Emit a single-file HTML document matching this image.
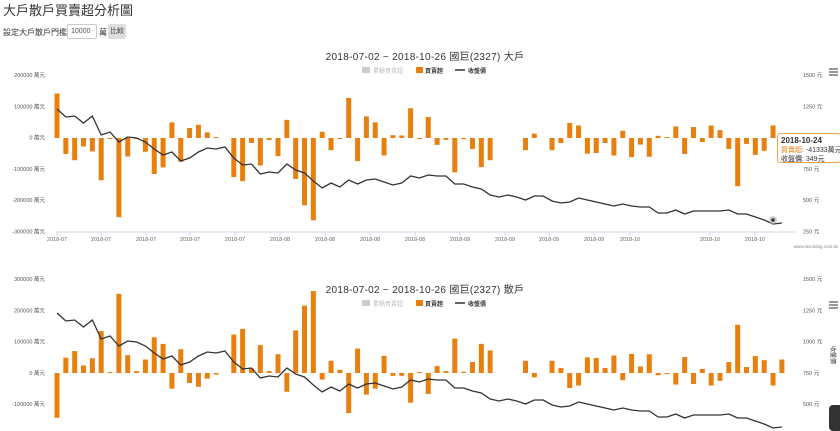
<!DOCTYPE html>
<html><head><meta charset="utf-8"><style>
body{margin:0;width:840px;height:429px;overflow:hidden;background:#fff;font-family:"Liberation Sans","Noto Sans CJK TC",sans-serif;position:relative}
.t{position:absolute;white-space:nowrap}
svg{position:absolute;left:0;top:0}
</style></head><body>
<div class="t" style="left:3px;top:0px;font-size:13px;color:#333">大戶散戶買賣超分析圖</div>
<div class="t" style="left:3px;top:27px;font-size:8px;color:#333">設定大戶散戶門檻</div>
<div class="t" style="left:67px;top:24px;width:30px;height:15px;border:1px solid #ccc;border-radius:2px;font-size:7px;line-height:14px;padding-left:3px;box-sizing:border-box;color:#555">10000</div>
<div class="t" style="left:99px;top:27px;font-size:8px;color:#333">萬</div>
<div class="t" style="left:108px;top:24px;width:18px;height:15px;background:#ddd;border-radius:2px;font-size:7px;line-height:15px;text-align:center;color:#444">比較</div>
<svg id="s" width="840" height="429" xmlns="http://www.w3.org/2000/svg"></svg>
<div class="t" style="left:777px;top:133px;width:64px;height:30px;background:rgba(255,255,255,.95);border:1px solid #f0a050;border-radius:3px;font-size:7px;line-height:9px;padding:2px 3px;box-sizing:border-box;color:#333"><b style="font-size:8px">2018-10-24</b><br><span style="color:#e8800f">買賣超</span>: -41333萬元<br>收盤價: 349元</div>
<div class="t" style="left:829px;top:405px;width:14px;height:26px;background:#333;border-radius:4px"></div>
<script>
const s=document.getElementById('s');let h='';
const X=i=>57+i*8.84;
const c1=[142,-51,-71,-27,-43,-135,-1,-253,-59,-3,-44,-115,-94,50,-76,32,42,18,3,0,-125,-138,-16,-88,-6,-58,58,-131,-215,-263,20,-39,-3,128,-74,69,50,-56,9,8,95,-3,67,-22,-6,-110,-4,-35,-93,-71,0,0,0,-39,14,0,-39,-16,48,40,-50,-48,-16,-56,23,-61,-21,-60,7,3,37,-51,35,-13,40,25,-35,-154,-19,-54,-41,40,-43];
const c2=[-143,49,70,24,47,134,3,253,57,6,43,114,93,-50,76,-32,-44,-18,-5,0,123,141,15,89,6,60,-60,136,215,262,-21,39,10,-128,78,-69,-50,55,-9,-9,-95,3,-67,22,6,110,4,35,93,72,0,0,0,39,-14,0,39,16,-48,-40,50,48,16,56,-23,61,21,60,-7,-3,-37,51,-35,13,-40,-25,35,154,19,54,41,-40,43];
const ly=[109,117,116,123,116,135,132,142,137,138,142,149,155,152,161,158,152,148,149,147,158,165,164,174,172,173,164,170,173,181,188,183,187,180,184,180,179,182,185,183,176,178,175,176,176,184,184,187,189,195,197,195,197,200,196,196,201,203,202,198,200,202,204,206,204,206,207,207,213,213,210,214,211,211,211,211,210,214,214,217,220,224,223];
const T=(x,y,t,sz,col,anc,extra)=>`<text x="${x}" y="${y}" font-size="${sz}" fill="${col}" text-anchor="${anc||'start'}" ${extra||''}>${t}</text>`;
function chart(z,vals,off,title,left,right,ty,top){
 h+=T(425,ty,title,10,'#333','middle','letter-spacing="0.3"');
 const ly2=ty+13;
 h+=`<rect x="362" y="${ly2-6}" width="8" height="6" fill="#ccc"/>`+T(373,ly2,'累積買賣超',6,'#bbb');
 h+=`<rect x="416" y="${ly2-6}" width="7" height="6" fill="#e8800f"/>`+T(425,ly2,'買賣超',6,'#333','start','font-weight="bold"');
 h+=`<line x1="455" y1="${ly2-3}" x2="465" y2="${ly2-3}" stroke="#333" stroke-width="1.5"/>`+T(468,ly2,'收盤價',6,'#333','start','font-weight="bold"');
 left.forEach((l,k)=>{h+=T(45,top+31.3*k+2,l,5.5,'#555','end');});
 right.forEach((l,k)=>{h+=T(803,top+31.3*k+2,l,5.5,'#555');});
 h+=`<g fill="#e8800f">`;
 vals.forEach((v,i)=>{if(!v)return;const hh=Math.abs(v)*0.313;h+=`<rect x="${X(i)-2.5}" y="${v>0?z-hh:z}" width="5" height="${Math.max(hh,1)}"/>`});
 h+=`</g>`;
 h+=`<polyline fill="none" stroke="#333" stroke-width="1.3" points="${ly.map((y,i)=>X(i)+','+(y+off)).join(' ')}"/>`;
 h+=`<g stroke="#333" stroke-width="1"><line x1="829" y1="${ty+9}" x2="838" y2="${ty+9}"/><line x1="829" y1="${ty+12}" x2="838" y2="${ty+12}"/><line x1="829" y1="${ty+15}" x2="838" y2="${ty+15}"/></g>`;
}
chart(138,c1,0,'2018-07-02 ~ 2018-10-26 國巨(2327) 大戶',['200000 萬元','100000 萬元','0 萬元','-100000 萬元','-200000 萬元','-300000 萬元'],['1500 元','1250 元','1000 元','750 元','500 元','250 元'],60,75);
chart(373,c2,204,'2018-07-02 ~ 2018-10-26 國巨(2327) 散戶',['300000 萬元','200000 萬元','100000 萬元','0 萬元','-100000 萬元'],['1500 元','1250 元','1000 元','750 元','500 元'],293,279);
h+=`<line x1="56" y1="232" x2="796" y2="232" stroke="#ccd6eb" stroke-width="1"/>`;
const ticks=[[57,'07'],[101,'07'],[146,'07'],[190,'07'],[235,'07'],[280,'08'],[325,'08'],[370,'08'],[415,'08'],[460,'09'],[505,'09'],[549,'09'],[594,'09'],[630,'10'],[710,'10'],[755,'10']];
ticks.forEach(([x,m])=>{h+=`<line x1="${x}" y1="232" x2="${x}" y2="236" stroke="#ccd6eb"/>`+T(x,241,'2018-'+m,5.5,'#666','middle')});
h+=T(838,248,'www.stockdog.com.tw',4.5,'#888','end');
h+=`<circle cx="773" cy="220" r="4" fill="#bbb" opacity=".7"/><circle cx="773" cy="220" r="1.8" fill="#333"/>`;
h+=T(831,355,'收盤價',6,'#333','middle','transform="rotate(90 831 355)"');
s.innerHTML=h;
</script>
</body></html>
